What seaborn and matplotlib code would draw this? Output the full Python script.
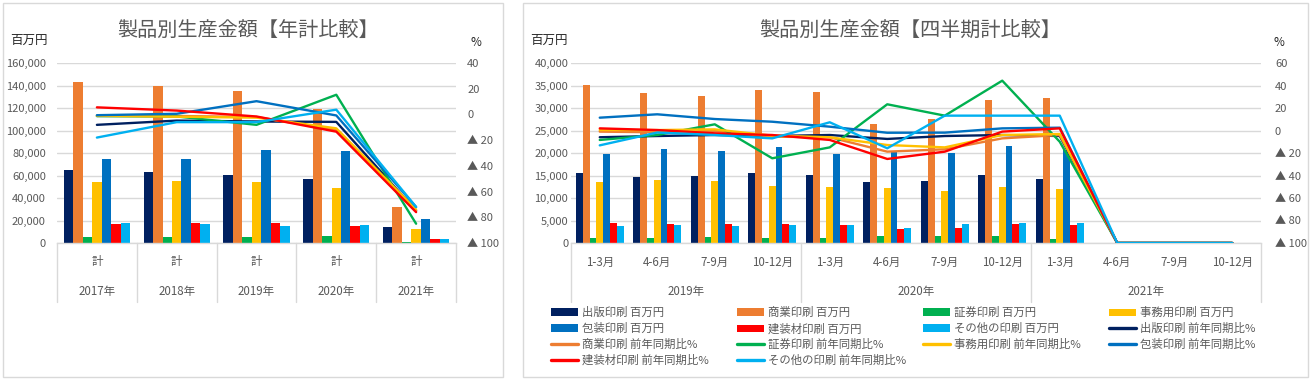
import numpy as np
import pandas as pd
import matplotlib
matplotlib.use('Agg')
import matplotlib.pyplot as plt
import seaborn as sns
from matplotlib.patches import Rectangle, Patch
from matplotlib.lines import Line2D
from matplotlib.ticker import FuncFormatter
import matplotlib.transforms as mtrans

sns.set_theme(style='white')
plt.rcParams['font.family'] = ['Noto Sans CJK JP', 'DejaVu Sans']

# ---------------- data ----------------
products = ['出版印刷', '商業印刷', '証券印刷', '事務用印刷', '包装印刷', '建装材印刷', 'その他の印刷']
colors = ['#002060', '#ED7D31', '#00B050', '#FFC000', '#0070C0', '#FF0000', '#00B0F0']

# annual (left chart)
years_a = ['2017年', '2018年', '2019年', '2020年', '2021年']
sub_a = ['計', '計', '計', '計', '計']
pub_a = [65000, 63200, 60400, 56900, 14400]
com_a = [143000, 139500, 135200, 119500, 32400]
sec_a = [5000, 5000, 5000, 6000, 1000]
off_a = [54300, 55100, 54300, 48900, 12700]
pkg_a = [74300, 74300, 82600, 81700, 20900]
bld_a = [17000, 18000, 18000, 15000, 4000]
oth_a = [18000, 17000, 15000, 16000, 4000]
pub_ap = [-8.1, -4.8, -5.5, -5.8, -75]
com_ap = [-1.2, -1.2, -2.0, -12.0, -75]
sec_ap = [-1.3, -1.6, -8.1, 15.3, -85]
off_ap = [-1.0, -1.8, -2.5, -10.8, -74]
pkg_ap = [-0.6, 0.5, 10.3, -0.8, -72]
bld_ap = [5.5, 3.0, -1.6, -13.4, -76]
oth_ap = [-18.0, -6.0, -6.0, 3.7, -72]

# quarterly (right chart)
years_q = ['2019年', '2020年', '2021年']
quarters = ['1-3月', '4-6月', '7-9月', '10-12月']
pub_q = [15550, 14580, 14800, 15470, 15030, 13470, 13840, 15030, 14140, 0, 0, 0]
com_q = [35100, 33250, 32580, 34070, 33450, 26500, 27620, 31690, 32130, 0, 0, 0]
sec_q = [1100, 1100, 1330, 1100, 1100, 1550, 1550, 1550, 890, 0, 0, 0]
off_q = [13470, 14070, 13700, 12730, 12510, 12290, 11470, 12360, 12070, 0, 0, 0]
pkg_q = [19780, 20890, 20440, 21250, 19780, 20500, 20070, 21620, 20600, 0, 0, 0]
bld_q = [4360, 4220, 4220, 4220, 4000, 3110, 3330, 4220, 4000, 0, 0, 0]
oth_q = [3780, 4000, 3780, 4000, 4000, 3330, 4220, 4440, 4440, 0, 0, 0]
pub_qp = [-6.0, -4.9, -4.0, -4.9, -4.0, -7.5, -4.9, -4.0, -4.9, -100, -100, -100]
com_qp = [-1.0, -1.6, -0.4, -5.5, -6.0, -18.8, -16.7, -7.0, -4.0, -100, -100, -100]
sec_qp = [-8.4, -4.0, 5.5, -24.7, -15.0, 23.3, 13.2, 44.3, -10.0, -100, -100, -100]
off_qp = [0.4, 0.4, 1.0, -4.6, -6.0, -12.9, -15.0, -4.0, -3.1, -100, -100, -100]
pkg_qp = [11.4, 14.4, 10.2, 7.8, 3.4, -2.0, -1.9, 1.9, 2.5, -100, -100, -100]
bld_qp = [1.9, 0.4, -2.5, -4.0, -8.4, -25.3, -18.8, -1.0, 1.9, -100, -100, -100]
oth_qp = [-13.2, -1.8, -4.0, -7.0, 7.3, -15.8, 13.2, 13.2, 13.2, -100, -100, -100]

amt_unit = '百万円'
pct_unit = '%'
title_a = '製品別生産金額【年計比較】'
title_q = '製品別生産金額【四半期計比較】'

# ---------------- frames ----------------
W, H = 1313, 382
fig = plt.figure(figsize=(W / 100, H / 100), dpi=100)
fig.patch.set_facecolor('white')
TXT = '#595959'
GRID = '#D9D9D9'
TICK_FS = 8.0


def fx(x):
    return x / W


def fy(y):
    return 1 - y / H


for (x0, x1) in [(3, 503), (523, 1308)]:
    fig.patches.append(Rectangle((fx(x0), fy(377)), fx(x1 - x0), (377 - 3) / H,
                                 transform=fig.transFigure, fill=False,
                                 edgecolor=GRID, linewidth=1.0))


def pct_fmt(v, p):
    v = int(round(v))
    if v == 0:
        return '0'
    if v > 0:
        return f'{v}'
    return f'▲ {-v}'


def build(ax, cats, amounts, pcts, ylim, ystep, plim, pstep, lpad, rpad):
    df = pd.DataFrame({
        'cat': np.tile(cats, len(products)),
        'series': np.repeat(products, len(cats)),
        'value': np.concatenate(amounts),
    })
    sns.barplot(data=df, x='cat', y='value', hue='series', hue_order=products,
                palette=colors, width=0.83, saturation=1, linewidth=0,
                legend=False, ax=ax, zorder=2)
    ax2 = ax.twinx()
    dfl = pd.DataFrame({
        'pos': np.tile(np.arange(len(cats)), len(products)),
        'series': np.repeat(products, len(cats)),
        'pct': np.concatenate(pcts),
    })
    sns.lineplot(data=dfl, x='pos', y='pct', hue='series', hue_order=products,
                 palette=colors, linewidth=1.7, errorbar=None, legend=False,
                 ax=ax2)
    for a in (ax, ax2):
        for s in a.spines.values():
            s.set_visible(False)
        a.set_xlabel('')
        a.set_ylabel('')
    ax.spines['bottom'].set_visible(True)
    ax.spines['bottom'].set_color(GRID)
    ax.spines['bottom'].set_linewidth(1.0)
    ax.set_xlim(-0.5, len(cats) - 0.5)
    ax.set_ylim(*ylim)
    ax.set_yticks(np.arange(ylim[0], ylim[1] + 1, ystep))
    ax.yaxis.set_major_formatter(FuncFormatter(lambda v, p: f'{int(v):,}'))
    ax2.set_ylim(*plim)
    ax2.set_yticks(np.arange(plim[0], plim[1] + 1, pstep))
    ax2.yaxis.set_major_formatter(FuncFormatter(pct_fmt))
    ax.grid(axis='y', color=GRID, linewidth=1.0, zorder=0)
    ax.grid(axis='x', visible=False)
    ax2.grid(False)
    ax.set_axisbelow(True)
    ax.tick_params(axis='y', length=0, pad=lpad, labelsize=TICK_FS, labelcolor=TXT)
    ax2.tick_params(axis='y', length=0, pad=rpad, labelsize=TICK_FS, labelcolor=TXT)
    ax.set_xticks([])
    return ax2


def sep_lines(ax, xs):
    tr = mtrans.blended_transform_factory(ax.transData, ax.transAxes)
    for x in xs:
        ax.add_line(Line2D([x, x], [0, -59 / 180], transform=tr, color=GRID,
                           linewidth=1.0, clip_on=False))


def label_row(ax, xs, labels, ypix):
    tr = mtrans.blended_transform_factory(ax.transData, ax.transAxes)
    for x, lab in zip(xs, labels):
        ax.text(x, -(ypix - 243) / 180, lab, transform=tr, ha='center',
                va='center', fontsize=8.3, color=TXT)


# ---------------- left chart ----------------
axL = fig.add_axes([fx(57), fy(243), fx(399), 180 / H])
axL2 = build(axL, years_a,
             [pub_a, com_a, sec_a, off_a, pkg_a, bld_a, oth_a],
             [pub_ap, com_ap, sec_ap, off_ap, pkg_ap, bld_ap, oth_ap],
             (0, 160000), 20000, (-100, 40), 20, 8, 8)
sep_lines(axL, np.arange(-0.5, len(years_a), 1.0))
label_row(axL, range(len(years_a)), sub_a, 262)
label_row(axL, range(len(years_a)), years_a, 291)

# ---------------- right chart ----------------
qcats = [f'{y}{q}' for y in years_q for q in quarters]
axR = fig.add_axes([fx(571), fy(243), fx(690), 180 / H])
axR2 = build(axR, qcats,
             [pub_q, com_q, sec_q, off_q, pkg_q, bld_q, oth_q],
             [pub_qp, com_qp, sec_qp, off_qp, pkg_qp, bld_qp, oth_qp],
             (0, 40000), 5000, (-100, 60), 20, 2, 10)
sep_lines(axR, [-0.5, 3.5, 7.5, 11.5])
label_row(axR, range(len(qcats)), quarters * len(years_q), 262)
label_row(axR, [1.5, 5.5, 9.5], years_q, 291)

# ---------------- titles / units ----------------
fig.text(fx(248), fy(31), title_a, ha='center', va='center', fontsize=14.5, color=TXT)
fig.text(fx(910), fy(31), title_q, ha='center', va='center', fontsize=14.5, color=TXT)
fig.text(fx(10), fy(40), amt_unit, ha='left', va='center', fontsize=9, color='#262626')
fig.text(fx(476), fy(43), pct_unit, ha='center', va='center', fontsize=8.5, color='#262626')
fig.text(fx(530), fy(40), amt_unit, ha='left', va='center', fontsize=9, color='#262626')
fig.text(fx(1279), fy(43), pct_unit, ha='center', va='center', fontsize=8.5, color='#262626')

# ---------------- legend ----------------
handles, labels = [], []
for p, c in zip(products, colors):
    handles.append(Patch(facecolor=c, edgecolor='none'))
    labels.append(f'{p} {amt_unit}')
for p, c in zip(products, colors):
    handles.append(Line2D([0], [0], color=c, linewidth=2.4))
    labels.append(f'{p} 前年同期比{pct_unit}')

col_x = [551, 737, 923, 1109]
for k in range(4):
    idx = list(range(k, len(handles), 4))
    fig.legend([handles[i] for i in idx], [labels[i] for i in idx],
               loc='upper left', bbox_to_anchor=(fx(col_x[k]), fy(307)),
               frameon=False, fontsize=8.2, labelcolor=TXT, borderpad=0,
               borderaxespad=0, handlelength=2.4, handleheight=0.6,
               handletextpad=0.3, labelspacing=0.42)

fig.savefig('out.png', dpi=100, facecolor='white')
